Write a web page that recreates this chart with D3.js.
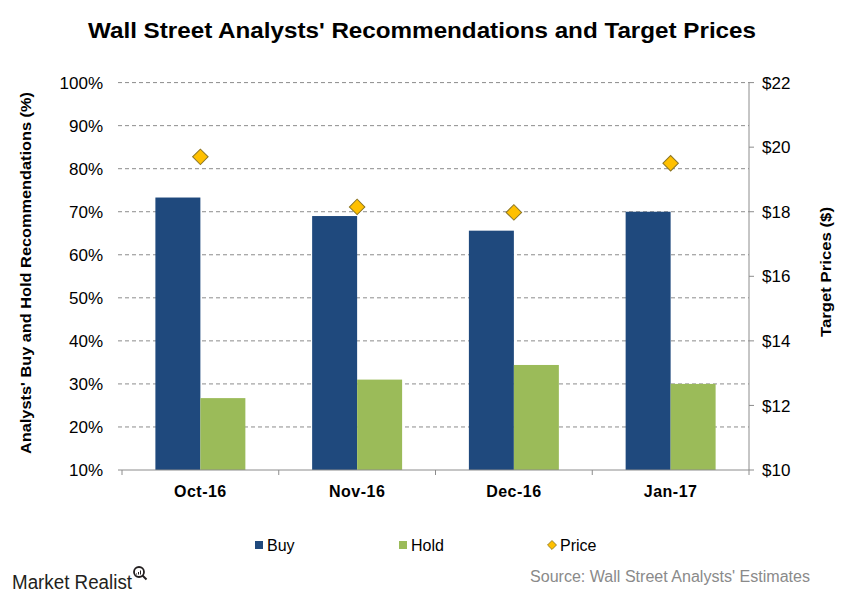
<!DOCTYPE html>
<html>
<head>
<meta charset="utf-8">
<script src="https://cdn.jsdelivr.net/npm/d3@7"></script>
<style>
  html, body { margin: 0; padding: 0; background: #fff; }
  svg { display: block; font-family: "Liberation Sans", Arial, sans-serif; }
</style>
</head>
<body>
<svg id="chart" width="842" height="600"></svg>
<script>
const categories = ["Oct-16", "Nov-16", "Dec-16", "Jan-17"];
const buyValues = [73.3, 69.0, 65.6, 70.0];
const holdValues = [26.7, 31.0, 34.4, 30.0];
const priceValues = [19.7, 18.15, 17.98, 19.5];
const leftTicks = [10, 20, 30, 40, 50, 60, 70, 80, 90, 100];
const rightTicks = [10, 12, 14, 16, 18, 20, 22];

const colors = { Buy: "#1F497D", Hold: "#9BBB59", Price: "#FFC000" };

const svg = d3.select("#chart");
const L = 122, R = 749, T = 82.6, B = 470;

const x0 = d3.scaleBand().domain(categories).range([L, R]).paddingInner(0.426).paddingOuter(0.213);
const x1 = d3.scaleBand().domain(["Buy", "Hold"]).range([0, x0.bandwidth()]);
const yL = d3.scaleLinear().domain([10, 100]).range([B, T]);
const yR = d3.scaleLinear().domain([10, 22]).range([B, T]);

// Title
svg.append("text").attr("x", 422).attr("y", 38).attr("text-anchor", "middle")
  .attr("font-size", 22).attr("font-weight", "bold").attr("fill", "#000")
  .attr("textLength", 668).attr("lengthAdjust", "spacingAndGlyphs")
  .text("Wall Street Analysts' Recommendations and Target Prices");

// Gridlines (dashed)
svg.append("g").selectAll("line").data(leftTicks.filter(d => d > 10)).join("line")
  .attr("x1", L - 4).attr("x2", R).attr("y1", d => yL(d)).attr("y2", d => yL(d))
  .attr("stroke", "#8c8c8c").attr("stroke-width", 1).attr("stroke-dasharray", "4,3");

// Left tick labels
svg.append("g").selectAll("text").data(leftTicks).join("text")
  .attr("x", 103).attr("y", d => yL(d)).attr("dy", "0.36em")
  .attr("text-anchor", "end").attr("font-size", 17).attr("fill", "#000")
  .text(d => d + "%");

// Bars
const groups = svg.append("g").selectAll("g").data(categories).join("g")
  .attr("transform", d => `translate(${x0(d)},0)`);
groups.append("rect")
  .attr("x", x1("Buy")).attr("width", x1.bandwidth())
  .attr("y", (d, i) => yL(buyValues[i])).attr("height", (d, i) => B - yL(buyValues[i]))
  .attr("fill", colors.Buy);
groups.append("rect")
  .attr("x", x1("Hold")).attr("width", x1.bandwidth())
  .attr("y", (d, i) => yL(holdValues[i])).attr("height", (d, i) => B - yL(holdValues[i]))
  .attr("fill", colors.Hold);

// Bottom axis
const xAxis = svg.append("g");
xAxis.append("line").attr("x1", L - 4).attr("x2", R).attr("y1", B).attr("y2", B)
  .attr("stroke", "#8c8c8c").attr("stroke-width", 1);
const bounds = categories.map(c => x0(c) - x0.step() * x0.paddingInner() / 2).concat([R]);
xAxis.selectAll("line.tick").data(bounds).join("line").attr("class", "tick")
  .attr("x1", d => d).attr("x2", d => d).attr("y1", B).attr("y2", B + 5)
  .attr("stroke", "#8c8c8c");
xAxis.selectAll("text").data(categories).join("text")
  .attr("x", d => x0(d) + x0.bandwidth() / 2).attr("y", 497)
  .attr("text-anchor", "middle").attr("font-size", 16).attr("font-weight", "bold")
  .attr("letter-spacing", 0.5).attr("fill", "#000")
  .text(d => d);

// Right axis
const rAxis = svg.append("g");
rAxis.append("line").attr("x1", R).attr("x2", R).attr("y1", T).attr("y2", B)
  .attr("stroke", "#8c8c8c");
rAxis.selectAll("line.tick").data(rightTicks).join("line").attr("class", "tick")
  .attr("x1", R).attr("x2", R + 5).attr("y1", d => yR(d)).attr("y2", d => yR(d))
  .attr("stroke", "#8c8c8c");
rAxis.selectAll("text").data(rightTicks).join("text")
  .attr("x", 762).attr("y", d => yR(d)).attr("dy", "0.36em")
  .attr("font-size", 17).attr("fill", "#000")
  .text(d => "$" + d);

// Price diamonds
const diamond = d3.symbol().type(d3.symbolSquare).size(120);
svg.append("g").selectAll("path").data(categories).join("path")
  .attr("d", diamond)
  .attr("transform", (d, i) => `translate(${x0(d) + x0.bandwidth() / 2},${yR(priceValues[i])}) rotate(45)`)
  .attr("fill", colors.Price).attr("stroke", "#8a7424").attr("stroke-width", 1);

// Axis titles
svg.append("text").attr("transform", "translate(31,273) rotate(-90)")
  .attr("text-anchor", "middle").attr("font-size", 15).attr("font-weight", "bold")
  .attr("textLength", 362).attr("lengthAdjust", "spacingAndGlyphs").attr("fill", "#000")
  .text("Analysts' Buy and Hold Recommendations (%)");
svg.append("text").attr("transform", "translate(831,272) rotate(-90)")
  .attr("text-anchor", "middle").attr("font-size", 15).attr("font-weight", "bold")
  .attr("textLength", 130).attr("lengthAdjust", "spacingAndGlyphs").attr("fill", "#000")
  .text("Target Prices ($)");

// Legend
const legendItems = [
  { name: "Buy", x: 255, type: "square" },
  { name: "Hold", x: 399, type: "square" },
  { name: "Price", x: 548, type: "diamond" }
];
const lg = svg.append("g");
legendItems.forEach(it => {
  if (it.type === "square") {
    lg.append("rect").attr("x", it.x).attr("y", 541).attr("width", 8).attr("height", 8)
      .attr("fill", colors[it.name]);
  } else {
    lg.append("path").attr("d", d3.symbol().type(d3.symbolSquare).size(40))
      .attr("transform", `translate(${it.x + 4},545) rotate(45)`)
      .attr("fill", colors.Price).attr("stroke", "#8a7424").attr("stroke-width", 0.8);
  }
  lg.append("text").attr("x", it.x + 12).attr("y", 551).attr("font-size", 16)
    .attr("fill", "#000").text(it.name);
});

// Footer
svg.append("text").attr("x", 530).attr("y", 582).attr("font-size", 16)
  .attr("fill", "#8a8a8a").attr("textLength", 280).attr("lengthAdjust", "spacingAndGlyphs")
  .text("Source: Wall Street Analysts' Estimates");
svg.append("text").attr("x", 12).attr("y", 589).attr("font-size", 20)
  .attr("fill", "#231f20").attr("textLength", 120).attr("lengthAdjust", "spacingAndGlyphs")
  .text("Market Realist");
const mag = svg.append("g").attr("transform", "translate(139,572)");
mag.append("circle").attr("r", 5).attr("fill", "none").attr("stroke", "#231f20").attr("stroke-width", 1.8);
mag.append("line").attr("x1", 3.5).attr("y1", 3.5).attr("x2", 7.5).attr("y2", 7.5)
  .attr("stroke", "#231f20").attr("stroke-width", 2);
[[-2.5, 1.5, 2], [-0.5, 0, 3.5], [1.5, -1.5, 5]].forEach(b => {
  mag.append("line").attr("x1", b[0]).attr("x2", b[0]).attr("y1", 2.5).attr("y2", 2.5 - b[2] + 1)
    .attr("stroke", "#231f20").attr("stroke-width", 1);
});
</script>
</body>
</html>
